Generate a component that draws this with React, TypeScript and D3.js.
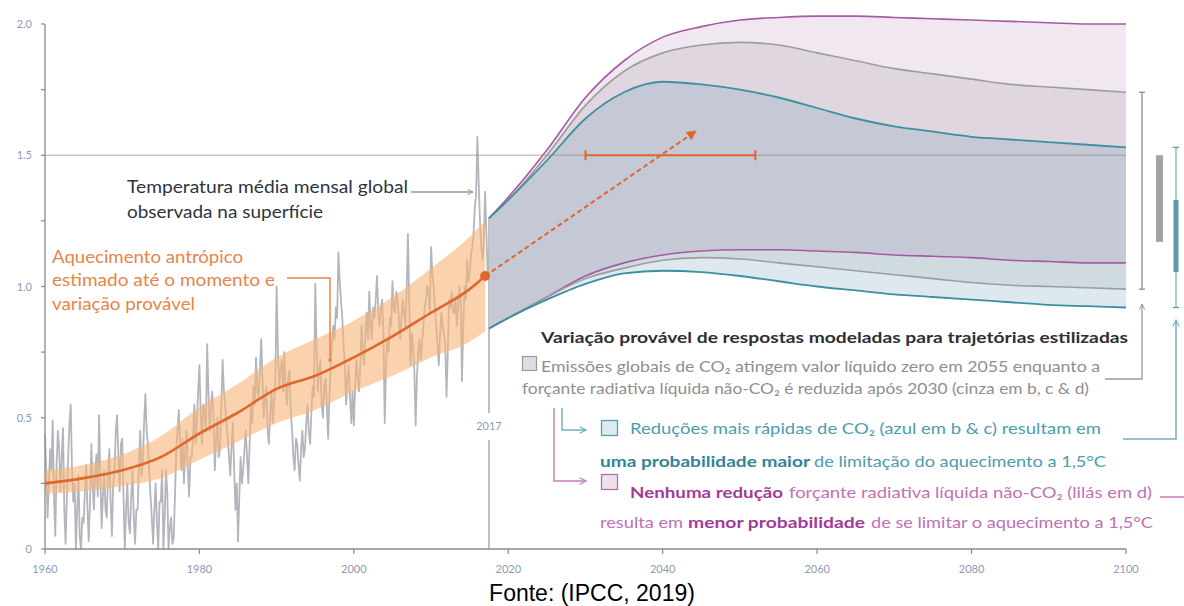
import React from "react";
import * as d3 from "d3";

const W = 1184;
const H = 606;

// observed monthly global mean surface temperature, sampled 6x per year (°C vs 1850-1900)
const obsStart = 1960;
const obsPerYear = 6;
const obsValues = [
  0.44, 0.3, 0.12, 0.25, 0.38, 0.3, // 1960
  0.49, 0.2, 0.05, 0.32, 0.45, 0.38,
  0.22, 0.35, 0.46, 0.15, 0.02, 0.2,
  0.35, 0.48, 0.55, 0.3, 0.18, 0.25,
  0.0, 0.15, 0.28, 0.05, 0.0, 0.12,
  0.1, 0.22, 0.32, 0.15, 0.03, 0.18, // 1965
  0.4, 0.25, 0.15, 0.3, 0.36, 0.2,
  0.51, 0.28, 0.08, 0.2, 0.3, 0.15,
  0.12, 0.3, 0.38, 0.18, 0.05, 0.25,
  0.3, 0.45, 0.51, 0.35, 0.22, 0.4,
  0.42, 0.2, 0.0, 0.15, 0.25, 0.1, // 1970
  0.06, 0.2, 0.3, 0.12, 0.02, 0.15,
  0.15, 0.32, 0.45, 0.28, 0.33, 0.48,
  0.59, 0.45, 0.4, 0.3, 0.2, 0.12,
  0.02, 0.15, 0.25, 0.1, 0.0, 0.18,
  0.18, 0.3, 0.0, 0.12, 0.3, 0.22, // 1975
  0.0, 0.08, 0.12, 0.02, 0.04, 0.2,
  0.38, 0.45, 0.53, 0.4, 0.3, 0.42,
  0.25, 0.38, 0.45, 0.3, 0.2, 0.35,
  0.35, 0.42, 0.55, 0.4, 0.48, 0.6,
  0.7, 0.52, 0.4, 0.55, 0.52, 0.45, // 1980
  0.78, 0.6, 0.45, 0.55, 0.6, 0.5,
  0.3, 0.42, 0.5, 0.35, 0.38, 0.55,
  0.72, 0.6, 0.55, 0.48, 0.42, 0.35,
  0.28, 0.4, 0.48, 0.3, 0.15, 0.25,
  0.03, 0.2, 0.35, 0.25, 0.3, 0.38, // 1985
  0.45, 0.35, 0.25, 0.4, 0.55, 0.48,
  0.62, 0.55, 0.73, 0.6, 0.58, 0.68,
  0.8, 0.65, 0.5, 0.58, 0.62, 0.45,
  0.4, 0.52, 0.6, 0.48, 0.55, 0.65,
  1.0, 0.75, 0.62, 0.68, 0.72, 0.6, // 1990
  0.75, 0.62, 0.55, 0.65, 0.68, 0.52,
  0.45, 0.35, 0.3, 0.42, 0.4, 0.32,
  0.26, 0.38, 0.45, 0.35, 0.38, 0.48,
  0.55, 0.45, 0.4, 0.52, 0.62, 0.58,
  1.01, 0.78, 0.6, 0.68, 0.72, 0.55, // 1995
  0.5, 0.62, 0.65, 0.55, 0.42, 0.58,
  0.7, 0.78, 0.85, 0.8, 0.92, 0.88,
  1.13, 1.02, 0.95, 0.88, 0.78, 0.7,
  0.55, 0.65, 0.7, 0.58, 0.48, 0.6,
  0.47, 0.62, 0.72, 0.65, 0.6, 0.7, // 2000
  0.85, 0.75, 0.7, 0.82, 0.9, 0.8,
  0.98, 0.85, 0.8, 0.92, 0.88, 0.95,
  1.04, 0.9, 0.85, 0.92, 0.95, 0.82,
  0.48, 0.7, 0.8, 0.75, 0.88, 0.85,
  1.02, 0.92, 0.9, 0.98, 0.95, 0.88, // 2005
  0.8, 0.88, 0.95, 0.9, 0.85, 0.98,
  1.2, 0.95, 0.7, 0.82, 0.78, 0.68,
  0.47, 0.65, 0.75, 0.8, 0.72, 0.78,
  0.85, 0.92, 0.95, 1.0, 0.98, 0.9,
  1.15, 1.05, 1.0, 0.92, 0.85, 0.78, // 2010
  0.7, 0.82, 0.9, 0.85, 0.82, 0.78,
  0.58, 0.75, 0.95, 0.92, 0.98, 0.9,
  0.9, 0.95, 0.85, 0.92, 1.0, 0.95,
  0.64, 0.85, 1.0, 0.95, 1.1, 1.02,
  1.05, 1.12, 1.15, 1.2, 1.3, 1.35, // 2015
  1.57, 1.4, 1.25, 1.15, 1.1, 1.18,
  1.36, 1.2, 1.05, 1.12, 1.15, 1.2,
];

// estimated anthropogenic warming and likely range
const anthroYears = [1960, 1965, 1970, 1975, 1980, 1985, 1990, 1995, 2000, 2005, 2010, 2015, 2017];
const anthroMid = [0.25, 0.27, 0.3, 0.35, 0.44, 0.52, 0.61, 0.66, 0.73, 0.81, 0.9, 0.99, 1.04];
const anthroLow = [0.21, 0.22, 0.24, 0.27, 0.34, 0.41, 0.48, 0.53, 0.6, 0.66, 0.73, 0.79, 0.83];
const anthroHigh = [0.3, 0.32, 0.36, 0.43, 0.54, 0.63, 0.73, 0.8, 0.87, 0.96, 1.07, 1.19, 1.25];

// modelled responses for stylized pathways
const projYears = [2017.5, 2020, 2025, 2030, 2035, 2040, 2045, 2050, 2055, 2060, 2065, 2070, 2075, 2080, 2085, 2090, 2095, 2100];
const purpleUpper = [1.26, 1.34, 1.52, 1.72, 1.86, 1.95, 1.99, 2.015, 2.025, 2.03, 2.03, 2.025, 2.02, 2.015, 2.01, 2.005, 2.0, 2.0];
const greyUpper = [1.26, 1.33, 1.5, 1.69, 1.82, 1.89, 1.92, 1.93, 1.92, 1.89, 1.86, 1.83, 1.81, 1.79, 1.77, 1.76, 1.75, 1.74];
const tealUpper = [1.26, 1.33, 1.48, 1.64, 1.74, 1.78, 1.77, 1.75, 1.72, 1.68, 1.64, 1.61, 1.59, 1.57, 1.56, 1.55, 1.54, 1.53];
const purpleLower = [0.84, 0.88, 0.96, 1.04, 1.09, 1.12, 1.135, 1.14, 1.14, 1.135, 1.13, 1.12, 1.115, 1.11, 1.1, 1.095, 1.09, 1.09];
const greyLower = [0.84, 0.88, 0.96, 1.03, 1.07, 1.1, 1.11, 1.105, 1.09, 1.075, 1.06, 1.045, 1.03, 1.015, 1.005, 1.0, 0.995, 0.99];
const tealLower = [0.84, 0.88, 0.95, 1.01, 1.05, 1.06, 1.055, 1.04, 1.02, 1.0, 0.985, 0.97, 0.96, 0.95, 0.94, 0.93, 0.925, 0.92];

// ranges at 2100 (whisker and thick bar)
const greyWhisker = [0.99, 1.74];
const greyBar = [1.17, 1.5];
const tealWhisker = [0.92, 1.53];
const tealBar = [1.055, 1.33];

// 1.5 crossing range and projected trend arrow
const crossRange = [2030, 2052];
const trendEnd = [2044.2, 1.59];

const yTicks = [0, 0.5, 1.0, 1.5, 2.0];
const yTickLabels = ["0", "0.5", "1.0", "1.5", "2.0"];
const yMinorTicks = [0.25, 0.75, 1.25, 1.75];
const xTicks = [1960, 1980, 2000, 2020, 2040, 2060, 2080, 2100];

const FONT = "Lato, 'Open Sans', sans-serif";
const TICK = "#8d9ab0";
const ORANGE = "#e0672b";
const ORANGE_TXT = "#e8834a";
const GREY_TXT = "#8f8f8f";
const TEAL_TXT = "#4b9db0";
const TEAL_BOLD = "#2f8696";
const PURPLE_TXT = "#c070b8";
const PURPLE_BOLD = "#a23a9a";

const App = () => {
  const x = d3.scaleLinear().domain([1960, 2100]).range([45, 1126]);
  const y = d3.scaleLinear().domain([0, 2]).range([549, 24]);

  const obsLine = d3
    .line<number>()
    .x((_, i) => x(obsStart + i / obsPerYear))
    .y((d) => y(d));

  const anthroBand = d3
    .area<number>()
    .x((_, i) => x(anthroYears[i]))
    .y0((_, i) => y(anthroLow[i]))
    .y1((d) => y(d))
    .curve(d3.curveMonotoneX);
  const anthroLine = d3
    .line<number>()
    .x((_, i) => x(anthroYears[i]))
    .y((d) => y(d))
    .curve(d3.curveMonotoneX);

  const band = (lo: number[], hi: number[]) =>
    d3
      .area<number>()
      .x((_, i) => x(projYears[i]))
      .y0((_, i) => y(lo[i]))
      .y1((d) => y(d))
      .curve(d3.curveMonotoneX)(hi) || "";
  const curve = (vals: number[]) =>
    d3
      .line<number>()
      .x((_, i) => x(projYears[i]))
      .y((d) => y(d))
      .curve(d3.curveMonotoneX)(vals) || "";

  const x2100 = x(2100);
  const x17 = x(projYears[0]);

  return (
    <div style={{ position: "absolute", left: 0, top: 0 }}>
      <svg width={W} height={H} style={{ display: "block", background: "#fff" }} fontFamily={FONT}>
        <defs>
          <marker id="arrOrange" viewBox="0 0 10 10" refX="8" refY="5" markerWidth="5" markerHeight="5" orient="auto">
            <path d="M0,0 L10,5 L0,10 z" fill={ORANGE} />
          </marker>
          <marker id="arrGrey" viewBox="0 0 10 10" refX="9" refY="5" markerWidth="7" markerHeight="7" markerUnits="userSpaceOnUse" orient="auto">
            <path d="M1,1 L9,5 L1,9" fill="none" stroke="#9a9a9a" strokeWidth="1.4" />
          </marker>
          <marker id="arrTeal" viewBox="0 0 10 10" refX="9" refY="5" markerWidth="8" markerHeight="8" markerUnits="userSpaceOnUse" orient="auto">
            <path d="M1,1 L9,5 L1,9" fill="none" stroke="#6fb0bf" strokeWidth="1.4" />
          </marker>
          <marker id="arrPurple" viewBox="0 0 10 10" refX="9" refY="5" markerWidth="8" markerHeight="8" markerUnits="userSpaceOnUse" orient="auto">
            <path d="M1,1 L9,5 L1,9" fill="none" stroke="#c57dbf" strokeWidth="1.4" />
          </marker>
        </defs>

        {/* 2017 marker line */}
        <line x1={x17} x2={x17} y1={y(1.26)} y2={413} stroke="#a5a5a5" strokeWidth={1.4} />
        <line x1={x17} x2={x17} y1={440} y2={y(0)} stroke="#a5a5a5" strokeWidth={1.4} />
        <text x={x17} y={430} textAnchor="middle" fontSize={11} fill={TICK}>2017</text>

        {/* observations */}
        <path d={obsLine(obsValues) || ""} fill="none" stroke="#b3b6bd" strokeWidth={1.8} strokeLinejoin="round" />

        {/* anthropogenic warming */}
        <path d={anthroBand(anthroHigh) || ""} fill="#f7b478" fillOpacity={0.6} />
        <path d={anthroLine(anthroMid) || ""} fill="none" stroke={ORANGE} strokeWidth={2.6} />

        {/* plume */}
        <path d={band(greyUpper, purpleUpper)} fill="#f1e7f0" />
        <path d={band(tealUpper, greyUpper)} fill="#e0d6e0" />
        <path d={band(purpleLower, tealUpper)} fill="#c5c9d5" />
        <path d={band(greyLower, purpleLower)} fill="#d0dbe0" />
        <path d={band(tealLower, greyLower)} fill="#dde9ee" />
        <path d={curve(purpleUpper)} fill="none" stroke="#a55ba3" strokeWidth={1.6} />
        <path d={curve(purpleLower)} fill="none" stroke="#a55ba3" strokeWidth={1.6} />
        <path d={curve(greyUpper)} fill="none" stroke="#9d9d9d" strokeWidth={1.6} />
        <path d={curve(greyLower)} fill="none" stroke="#9d9d9d" strokeWidth={1.6} />
        <path d={curve(tealUpper)} fill="none" stroke="#3e8fa1" strokeWidth={1.8} />
        <path d={curve(tealLower)} fill="none" stroke="#3e8fa1" strokeWidth={1.8} />

        {/* 1.5 reference line */}
        <line x1={x(1960)} x2={x2100} y1={y(1.5)} y2={y(1.5)} stroke="#8f8f8f" strokeOpacity={0.5} strokeWidth={1.5} />

        {/* crossing range */}
        <line x1={x(crossRange[0])} x2={x(crossRange[1])} y1={y(1.5)} y2={y(1.5)} stroke={ORANGE} strokeWidth={2} />
        {crossRange.map((yr) => (
          <line key={yr} x1={x(yr)} x2={x(yr)} y1={y(1.5) - 5} y2={y(1.5) + 5} stroke={ORANGE} strokeWidth={2} />
        ))}

        {/* trend arrow */}
        <line
          x1={x(anthroYears[anthroYears.length - 1])}
          y1={y(anthroMid[anthroMid.length - 1])}
          x2={x(trendEnd[0])}
          y2={y(trendEnd[1])}
          stroke={ORANGE}
          strokeWidth={2}
          strokeDasharray="5,3"
          markerEnd="url(#arrOrange)"
        />
        <circle cx={x(anthroYears[anthroYears.length - 1])} cy={y(anthroMid[anthroMid.length - 1])} r={5} fill={ORANGE} />

        {/* 2100 ranges */}
        <line x1={x2100 + 16} x2={x2100 + 16} y1={y(greyWhisker[0])} y2={y(greyWhisker[1])} stroke="#8c8c8c" strokeWidth={1.3} />
        {greyWhisker.map((v) => (
          <line key={"gw" + v} x1={x2100 + 13} x2={x2100 + 19} y1={y(v)} y2={y(v)} stroke="#8c8c8c" strokeWidth={1.3} />
        ))}
        <rect x={x2100 + 30} width={7} y={y(greyBar[1])} height={y(greyBar[0]) - y(greyBar[1])} fill="#a3a3a7" />
        <line x1={x2100 + 50} x2={x2100 + 50} y1={y(tealWhisker[0])} y2={y(tealWhisker[1])} stroke="#8cc0cc" strokeWidth={1.5} />
        {tealWhisker.map((v) => (
          <line key={"tw" + v} x1={x2100 + 47} x2={x2100 + 53} y1={y(v)} y2={y(v)} stroke="#5a9bab" strokeWidth={1.3} />
        ))}
        <rect x={x2100 + 47.5} width={5} y={y(tealBar[1])} height={y(tealBar[0]) - y(tealBar[1])} fill="#5a9aaa" />

        {/* connectors on the right */}
        <path d={`M1105,379 H${x2100 + 16} V304`} fill="none" stroke="#9a9a9a" strokeWidth={1.3} markerEnd="url(#arrGrey)" />
        <path d={`M1123,439 H${x2100 + 50} V320`} fill="none" stroke="#6fb0bf" strokeWidth={1.5} markerEnd="url(#arrTeal)" />
        <path d="M1160,497 H1184" fill="none" stroke="#c57dbf" strokeWidth={1.5} />

        {/* legend connectors */}
        <path d="M562,408 V430 H586" fill="none" stroke="#6fb0bf" strokeWidth={1.4} markerEnd="url(#arrTeal)" />
        <path d="M554,408 V481 H586" fill="none" stroke="#c57dbf" strokeWidth={1.4} markerEnd="url(#arrPurple)" />

        {/* axes */}
        <line x1={x(1960)} x2={x(1960)} y1={y(2)} y2={y(0)} stroke="#8a8a8a" strokeWidth={1.3} />
        {yTicks.concat(yMinorTicks).map((v) => (
          <line key={"yt" + v} x1={x(1960) - 4} x2={x(1960)} y1={y(v)} y2={y(v)} stroke="#8a8a8a" strokeWidth={1.2} />
        ))}
        {yTicks.map((v, i) => (
          <text key={"yl" + v} x={32} y={y(v) + 4} textAnchor="end" fontSize={11} fill={TICK}>
            {yTickLabels[i]}
          </text>
        ))}
        <line x1={x(1960)} x2={x2100} y1={y(0)} y2={y(0)} stroke="#8a8a8a" strokeWidth={1.3} />
        {xTicks.map((t) => (
          <g key={"xt" + t}>
            <line x1={x(t)} x2={x(t)} y1={y(0)} y2={y(0) + 5} stroke="#8a8a8a" strokeWidth={1.2} />
            <text x={x(t)} y={573} textAnchor="middle" fontSize={11} fill={TICK}>{t}</text>
          </g>
        ))}

        {/* annotations */}
        <text fontSize={17} fill="#2e3440">
          <tspan x={127} y={193} textLength={281} lengthAdjust="spacingAndGlyphs">Temperatura média mensal global</tspan>
          <tspan x={127} y={218} textLength={196} lengthAdjust="spacingAndGlyphs">observada na superfície</tspan>
        </text>
        <line x1={411} x2={473} y1={192} y2={192} stroke="#9a9a9a" strokeWidth={1.3} markerEnd="url(#arrGrey)" />

        <text fontSize={18} fill={ORANGE_TXT}>
          <tspan x={52} y={263} textLength={191} lengthAdjust="spacingAndGlyphs">Aquecimento antrópico</tspan>
          <tspan x={52} y={286} textLength={223} lengthAdjust="spacingAndGlyphs">estimado até o momento e</tspan>
          <tspan x={52} y={310} textLength={143} lengthAdjust="spacingAndGlyphs">variação provável</tspan>
        </text>
        <path d="M287,278 H330 V360" fill="none" stroke={ORANGE_TXT} strokeWidth={1.5} />
        <circle cx={330} cy={360} r={1.8} fill={ORANGE_TXT} />

        {/* legend */}
        <text x={541} y={343} fontSize={16} fontWeight="bold" fill="#2f2f33" textLength={587} lengthAdjust="spacingAndGlyphs">
          Variação provável de respostas modeladas para trajetórias estilizadas
        </text>
        <rect x={522.5} y={356.5} width={14} height={14} fill="#dedede" stroke="#9a9a9a" strokeWidth={1.2} />
        <text fontSize={15} fill={GREY_TXT}>
          <tspan x={541} y={372} textLength={559} lengthAdjust="spacingAndGlyphs">Emissões globais de CO₂ atingem valor líquido zero em 2055 enquanto a</tspan>
          <tspan x={522} y={394} textLength={567} lengthAdjust="spacingAndGlyphs">forçante radiativa líquida não-CO₂ é reduzida após 2030 (cinza em b, c & d)</tspan>
        </text>

        <rect x={601.5} y={420.5} width={16} height={15} fill="#dcebef" stroke="#5a9fae" strokeWidth={1.3} />
        <text fontSize={15} fill={TEAL_TXT}>
          <tspan x={630} y={434} textLength={471} lengthAdjust="spacingAndGlyphs">Reduções mais rápidas de CO₂ (azul em b & c) resultam em</tspan>
          <tspan x={600} y={467} textLength={210} lengthAdjust="spacingAndGlyphs" fontWeight="bold" fill={TEAL_BOLD}>uma probabilidade maior</tspan>
          <tspan x={814} y={467} textLength={292} lengthAdjust="spacingAndGlyphs">de limitação do aquecimento a 1,5°C</tspan>
        </text>

        <rect x={601.5} y={474.5} width={16} height={15} fill="#efe0ee" stroke="#b070aa" strokeWidth={1.3} />
        <text fontSize={15} fill={PURPLE_TXT}>
          <tspan x={630} y={498} textLength={153} lengthAdjust="spacingAndGlyphs" fontWeight="bold" fill={PURPLE_BOLD}>Nenhuma redução</tspan>
          <tspan x={789} y={498} textLength={363} lengthAdjust="spacingAndGlyphs">forçante radiativa líquida não-CO₂ (lilás em d)</tspan>
          <tspan x={600} y={528} textLength={83} lengthAdjust="spacingAndGlyphs">resulta em</tspan>
          <tspan x={688} y={528} textLength={177} lengthAdjust="spacingAndGlyphs" fontWeight="bold" fill={PURPLE_BOLD}>menor probabilidade</tspan>
          <tspan x={871} y={528} textLength={282} lengthAdjust="spacingAndGlyphs">de se limitar o aquecimento a 1,5°C</tspan>
        </text>

        {/* source */}
        <text x={592} y={601} textAnchor="middle" fontSize={23} fill="#000" fontFamily="'Liberation Sans', Arial, sans-serif">
          Fonte: (IPCC, 2019)
        </text>
      </svg>
    </div>
  );
};

export default App;
